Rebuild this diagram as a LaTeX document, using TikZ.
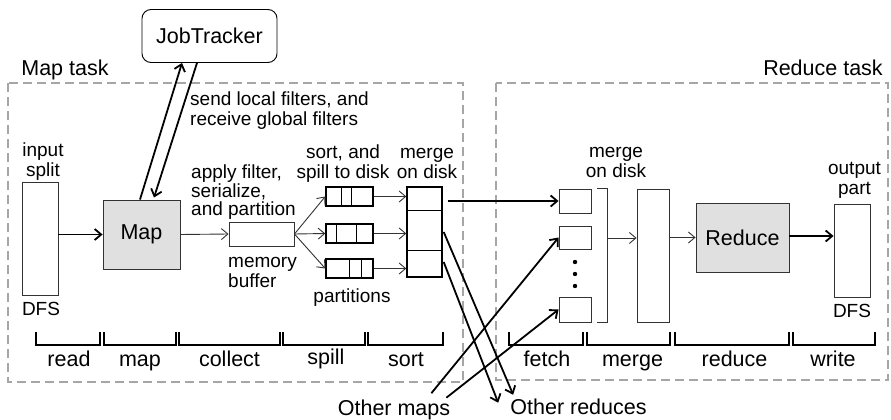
\documentclass[tikz,border=0pt]{standalone}
\usepackage{fontspec}
\setmainfont{Liberation Sans}
\usetikzlibrary{arrows.meta}
\tikzset{
  >={Straight Barb[length=6.5pt,width=11pt]},
  bigtxt/.style={font=\fontsize{21.5}{24}\selectfont, inner sep=0pt},
  smalltxt/.style={font=\fontsize{19}{20}\selectfont, inner sep=0pt},
  wbox/.style={draw=black!80, line width=0.9pt, inner sep=0pt},
  gbox/.style={draw=black!80, fill=black!12, line width=0.9pt, inner sep=0pt},
  pbox/.style={draw, line width=1.4pt, inner sep=0pt},
  taskbox/.style={draw=black!35, line width=1.1pt, dash pattern=on 9pt off 5pt},
  thk/.style={line width=1.8pt},
  thn/.style={line width=0.9pt, draw=black!80},
  brk/.style={line width=2pt},
}
\begin{document}
\begin{tikzpicture}[x=1pt,y=-1pt]
\useasboundingbox (0,0) rectangle (891,420);
% task frames
\draw[taskbox] (8,83) rectangle (463,382);
\draw[taskbox] (496,83) rectangle (888,380);
\node[bigtxt,anchor=base] (maptask) at (65,75) {Map task};
\node[bigtxt,anchor=base] (redtask) at (823,75) {Reduce task};
% job tracker
\node[draw, line width=0.9pt, rounded corners=9pt, minimum width=135pt, minimum height=53pt, bigtxt] (jt) at (209.5,36) {JobTracker};
% map side
\node[wbox, minimum width=36pt, minimum height=113pt] (inp) at (40,238.5) {};
\node[smalltxt,align=center,anchor=base] (inptxt) at (43,176) {input\\split};
\node[smalltxt,anchor=base] (dfs1) at (41,315) {DFS};
\node[gbox, minimum width=77pt, minimum height=69pt, bigtxt] (map) at (141.5,234.5) {Map};
\node[wbox, minimum width=65pt, minimum height=24pt] (buf) at (261.5,234) {};
\node[smalltxt,align=left,anchor=base west] (buftxt) at (228,287) {memory\\buffer};
\node[smalltxt,align=left,anchor=base west,font=\fontsize{19}{17.5}\selectfont] (apptxt) at (191,215) {apply filter,\\serialize,\\and partition};
\node[smalltxt,align=left,anchor=base west] (sendtxt) at (190,125) {send local filters, and\\receive global filters};
\node[pbox, minimum width=47pt, minimum height=19pt] (p1) at (349.5,196.5) {};
\node[pbox, minimum width=47pt, minimum height=19pt] (p2) at (349.5,233.5) {};
\node[pbox, minimum width=47pt, minimum height=19pt] (p3) at (349.5,268.5) {};
\draw[line width=1.4pt] ([xshift=16pt]p1.north west) -- ([xshift=16pt]p1.south west);
\draw[line width=1.4pt] ([xshift=26pt]p1.north west) -- ([xshift=26pt]p1.south west);
\draw[line width=1.4pt] ([xshift=11pt]p2.north west) -- ([xshift=11pt]p2.south west);
\draw[line width=1.4pt] ([xshift=31pt]p2.north west) -- ([xshift=31pt]p2.south west);
\draw[line width=1.4pt] ([xshift=24pt]p3.north west) -- ([xshift=24pt]p3.south west);
\draw[line width=1.4pt] ([xshift=36pt]p3.north west) -- ([xshift=36pt]p3.south west);
\node[smalltxt,align=center,anchor=base] (sorttxt) at (343,178) {sort, and\\spill to disk};
\node[smalltxt,anchor=base] (parttxt) at (352,302) {partitions};
\node[pbox, minimum width=35pt, minimum height=90pt] (mrg) at (424.5,232) {};
\draw[line width=1.4pt] ([yshift=-24pt]mrg.north west) -- ([yshift=-24pt]mrg.north east);
\draw[line width=1.4pt] ([yshift=-64pt]mrg.north west) -- ([yshift=-64pt]mrg.north east);
\node[smalltxt,align=center,anchor=base] (mrgtxt) at (427,178) {merge\\on disk};
% reduce side
\node[wbox, minimum width=32pt, minimum height=24pt] (f1) at (575,201) {};
\node[wbox, minimum width=32pt, minimum height=23pt] (f2) at (575,237.5) {};
\node[wbox, minimum width=32pt, minimum height=25pt] (f3) at (575,309.5) {};
\fill (575,262) circle (2.2pt) (575,274) circle (2.2pt) (575,286) circle (2.2pt);
\draw[thn] ([xshift=6pt]f1.north east) -| ([xshift=16pt]f3.south east) -- ([xshift=6pt]f3.south east);
\coordinate (brk) at (607,238);
\node[wbox, minimum width=32pt, minimum height=133pt] (mrg2) at (653,255.5) {};
\node[smalltxt,align=center,anchor=base] (mrg2txt) at (616,177) {merge\\on disk};
\node[gbox, minimum width=93pt, minimum height=69pt, bigtxt] (red) at (742.5,237.5) {Reduce};
\node[wbox, minimum width=36pt, minimum height=93pt] (out) at (852,250.5) {};
\node[smalltxt,align=center,anchor=base] (outtxt) at (854.5,194) {output\\part};
\node[smalltxt,anchor=base] (dfs2) at (852,317) {DFS};
\node[bigtxt,anchor=base] (omaps) at (394,415) {Other maps};
\node[bigtxt,anchor=base] (ored) at (578.5,414) {Other reduces};
% connectors
\draw[thk,->] ([xshift=-1.5pt]map.north) -- ([xshift=-27.5pt]jt.south);
\draw[thk,->] ([xshift=-12.5pt]jt.south) -- ([xshift=12.5pt,yshift=2pt]map.north);
\draw[thk,->] (map.west -| inp.east) -- (map.west);
\draw[thn,->] (map.east) -- (buf.west);
\draw[thn,->] (buf.east) -- (p1.west);
\draw[thn,->] (buf.east) -- (p2.west);
\draw[thn,->] (buf.east) -- (p3.west);
\draw[thn,->] (p1.east) -- (p1.east -| mrg.west);
\draw[thn,->] (p2.east) -- (p2.east -| mrg.west);
\draw[thn,->] (p3.east) -- (p3.east -| mrg.west);
\draw[thk,->] ([xshift=5pt]mrg.east |- f1.west) -- (f1.west);
\draw[thk,->] ([xshift=-19pt,yshift=6pt]omaps.north east) -- (f2.west);
\draw[thk,->] ([xshift=-4pt,yshift=1.5pt]omaps.north east) -- (f3.west);
\draw[thk,->] ([xshift=1pt]mrg.east) -- ([xshift=3pt,yshift=3.5pt]ored.north west);
\draw[thk,->] ([xshift=1pt,yshift=-30pt]mrg.east) -- ([xshift=-12pt,yshift=-4.5pt]ored.north west);
\draw[thn,->] (brk) -- (brk -| mrg2.west);
\draw[thn,->] (red.west -| mrg2.east) -- (red.west);
\draw[thk,->] ([yshift=1.5pt]red.east) -- ([yshift=1.5pt]red.east -| out.west);
% phases
\draw[brk] (36,332) |- (100,345) -- (100,332);
\node[bigtxt,anchor=base] (lread) at (69,366) {read};
\draw[brk] (104,332) |- (176,345) -- (176,332);
\node[bigtxt,anchor=base] (lmap) at (140,366) {map};
\draw[brk] (179,332) |- (280,345) -- (280,332);
\node[bigtxt,anchor=base] (lcollect) at (229.5,366) {collect};
\draw[brk] (283,332) |- (365,345) -- (365,332);
\node[bigtxt,anchor=base] (lspill) at (326,364) {spill};
\draw[brk] (368,332) |- (443,345) -- (443,332);
\node[bigtxt,anchor=base] (lsort) at (406,366) {sort};
\draw[brk] (509,332) |- (583,345) -- (583,332);
\node[bigtxt,anchor=base] (lfetch) at (547,366) {fetch};
\draw[brk] (587,332) |- (670,345) -- (670,332);
\node[bigtxt,anchor=base] (lmerge) at (632.5,366) {merge};
\draw[brk] (675,332) |- (789,345) -- (789,332);
\node[bigtxt,anchor=base] (lreduce) at (734.5,366) {reduce};
\draw[brk] (793,332) |- (875,345) -- (875,332);
\node[bigtxt,anchor=base] (lwrite) at (833,366) {write};
\end{tikzpicture}
\end{document}
